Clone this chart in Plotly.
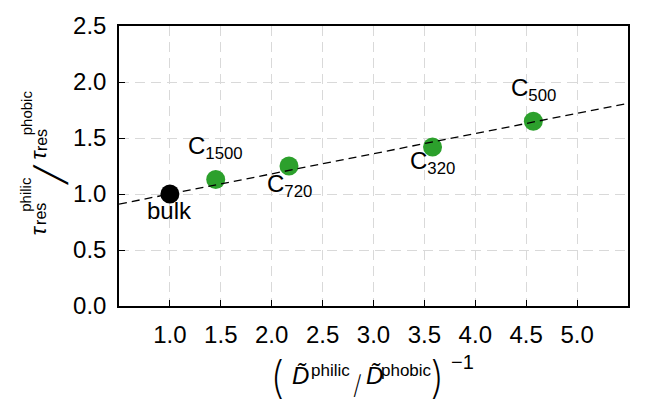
import plotly.graph_objects as go

# ---- data ----
labels = ["bulk", "C<sub>1500</sub>", "C<sub>720</sub>", "C<sub>320</sub>", "C<sub>500</sub>"]
x_vals = [1.00, 1.45, 2.17, 3.58, 4.57]
y_vals = [1.00, 1.13, 1.25, 1.42, 1.65]
colors = ["black", "#2ca02c", "#2ca02c", "#2ca02c", "#2ca02c"]
fit_x = [0.5, 5.5]
fit_y = [0.91, 1.81]
x_ticks = [1.0, 1.5, 2.0, 2.5, 3.0, 3.5, 4.0, 4.5, 5.0]
y_ticks = [0.0, 0.5, 1.0, 1.5, 2.0, 2.5]

# label offsets (pixels) relative to each point
label_shift = [(0, -16), (0, 32), (0, -19), (0, -16), (0, 32)]

FONT = "Liberation Sans, Arial, sans-serif"
THIN = "DejaVu Sans, sans-serif"
W, H = 647, 408
L, R, T, B = 119, 19, 14, 102
PW, PH = W - L - R, H - T - B


def px2paper(px, py):
    return (px - L) / PW, (H - B - py) / PH


fig = go.Figure()
fig.add_trace(go.Scatter(
    x=x_vals, y=y_vals, mode="markers",
    marker=dict(size=19, color=colors, line=dict(width=0)),
    showlegend=False, hoverinfo="skip"))
fig.add_trace(go.Scatter(
    x=fit_x, y=fit_y, mode="lines",
    line=dict(color="black", width=1.3, dash="8px,5px"),
    showlegend=False, hoverinfo="skip"))

annotations = []
for lab, xv, yv, (dx, dy) in zip(labels, x_vals, y_vals, label_shift):
    annotations.append(dict(
        x=xv, y=yv, xref="x", yref="y", text=lab, showarrow=False,
        xshift=dx, yshift=dy, xanchor="center", yanchor="middle",
        font=dict(family=FONT, size=24, color="black")))

# y-axis title pieces (rotated)
ytitle = [
    ("<i>τ</i>", 22, FONT, 38, 227),
    ("res", 16, FONT, 41, 210),
    ("philic", 15, FONT, 26, 190),
    ("\u2571", 30, THIN, 51, 169),
    ("<i>τ</i>", 22, FONT, 38, 148),
    ("res", 16, FONT, 41, 133),
    ("phobic", 15, FONT, 26, 105),
]
for txt, sz, fam, px, py in ytitle:
    xp, yp = px2paper(px, py)
    annotations.append(dict(
        x=xp, y=yp, xref="paper", yref="paper", text=txt, showarrow=False,
        textangle=-90, xanchor="center", yanchor="middle",
        font=dict(family=fam, size=sz, color="black")))

# x-axis title pieces
xtitle = [
    ("(", 44, "Inter", 200, 277, 380),
    ("<i>D\u0303</i>", 24, FONT, 400, 300, 378),
    ("philic", 17, FONT, 400, 330, 373),
    ("/", 26, "Inter", 200, 357, 388),
    ("<i>D\u0303</i>", 24, FONT, 400, 374, 378),
    ("phobic", 17, FONT, 400, 406, 373),
    (")", 44, "Inter", 200, 437, 380),
    ("\u22121", 20, FONT, 400, 462, 364),
]
for txt, sz, fam, wt, px, py in xtitle:
    xp, yp = px2paper(px, py)
    annotations.append(dict(
        x=xp, y=yp, xref="paper", yref="paper", text=txt, showarrow=False,
        xanchor="center", yanchor="middle",
        font=dict(family=fam, size=sz, color="black", weight=wt)))

grid = dict(showgrid=True, gridcolor="#d9d9d9", gridwidth=1.3, griddash="10px,6px")

fig.update_layout(
    width=W, height=H, autosize=False,
    margin=dict(l=L, r=R, t=T, b=B, pad=0),
    paper_bgcolor="white", plot_bgcolor="white",
    font=dict(family=FONT, size=24, color="black"),
    annotations=annotations,
    xaxis=dict(range=[0.5, 5.5], tickvals=x_ticks,
               ticktext=[f"{v:.1f}" for v in x_ticks],
               ticks="inside", ticklen=6, tickwidth=1.2, tickcolor="black",
               showline=True, linecolor="black", linewidth=1.5, mirror=True,
               zeroline=False, tickfont=dict(size=24), ticklabelstandoff=6,
               **grid),
    yaxis=dict(range=[0.0, 2.5], tickvals=y_ticks,
               ticktext=[f"{v:.1f}" for v in y_ticks],
               ticks="inside", ticklen=6, tickwidth=1.2, tickcolor="black",
               showline=True, linecolor="black", linewidth=1.5, mirror=True,
               zeroline=False, tickfont=dict(size=24), ticklabelstandoff=6,
               **grid),
)

fig.write_html("out.html")
